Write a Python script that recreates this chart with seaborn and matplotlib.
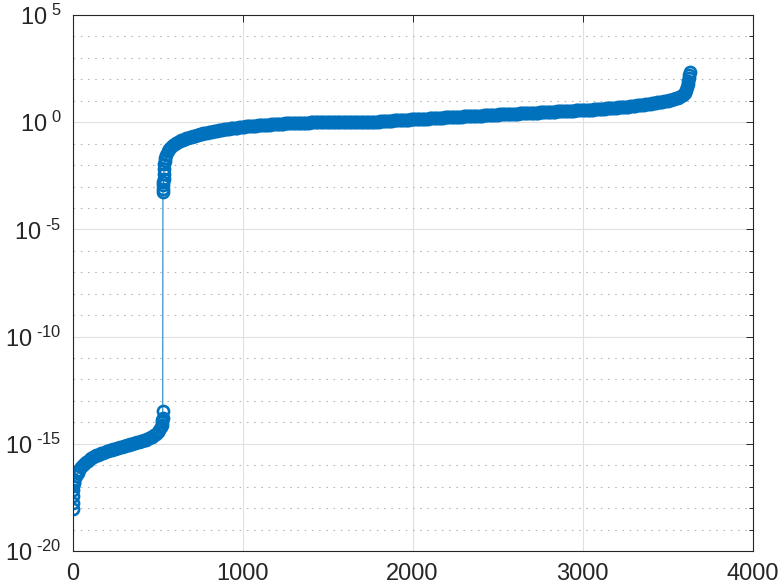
import numpy as np
import pandas as pd
import matplotlib
matplotlib.use("Agg")
import matplotlib.pyplot as plt
import seaborn as sns
from matplotlib.ticker import FixedLocator, FixedFormatter, NullLocator

# ---------------- data (log10 of sorted values) -------------
lower_head_idx = [1, 2, 3, 4, 5, 6, 8]
lower_head_log = [-18.05, -17.75, -17.45, -17.15, -16.95, -16.85, -16.78]

lower_dense_start, lower_dense_step = 10, 10
lower_dense_log = [
    -16.70, -16.50, -16.35, -16.20, -16.08, -15.99, -15.92, -15.85, -15.79, -15.73,
    -15.67, -15.62, -15.58, -15.54, -15.50, -15.47, -15.44, -15.41, -15.38, -15.35,
    -15.32, -15.30, -15.27, -15.25, -15.23, -15.20, -15.18, -15.16, -15.14, -15.11,
    -15.09, -15.07, -15.04, -15.02, -15.00, -14.98, -14.95, -14.93, -14.91, -14.88,
    -14.86, -14.83, -14.80, -14.77, -14.74, -14.70, -14.66, -14.61, -14.54, -14.46,
    -14.35, -14.20,
]

lower_tail_idx = [524, 527, 529, 530, 531]
lower_tail_log = [-14.10, -14.00, -13.90, -13.80, -13.45]

upper_head_idx = [532, 533, 534, 535, 536, 537, 538, 540, 542, 545]
upper_head_log = [-3.26, -3.10, -2.94, -2.79, -2.63, -2.40, -2.20, -1.95, -1.80, -1.65]

upper_dense_start, upper_dense_step = 550, 10
upper_dense_log = [
    -1.55, -1.36, -1.23, -1.14, -1.07, -1.01, -0.96, -0.92, -0.88, -0.85,
    -0.82, -0.79, -0.76, -0.73, -0.71, -0.68, -0.66, -0.63, -0.61, -0.58,
    -0.56, -0.54, -0.52, -0.50, -0.49, -0.47, -0.45, -0.44, -0.42, -0.41,
    -0.39, -0.38, -0.36, -0.35, -0.34, -0.32, -0.31, -0.30, -0.29, -0.28,
    -0.27, -0.26, -0.25, -0.24, -0.23, -0.22, -0.21, -0.20, -0.20, -0.19,
    -0.18, -0.17, -0.17, -0.16, -0.15, -0.15, -0.14, -0.13, -0.13, -0.12,
    -0.11, -0.11, -0.10, -0.10, -0.09, -0.09, -0.08, -0.08, -0.07, -0.07,
    -0.06, -0.06, -0.05, -0.05, -0.05, -0.04, -0.04, -0.04, -0.03, -0.03,
    -0.03, -0.02, -0.02, -0.02, -0.02, -0.01, -0.01, -0.01, -0.01, -0.01,
    -0.01, -0.01, -0.01, 0.00, 0.00, 0.00, 0.00, 0.00, 0.00, 0.00,
    0.00, 0.00, 0.00, 0.00, 0.00, 0.00, 0.00, 0.00, 0.00, 0.00,
    0.00, 0.00, 0.00, 0.00, 0.00, 0.00, 0.01, 0.01, 0.01, 0.01,
    0.01, 0.01, 0.02, 0.02, 0.03, 0.03, 0.04, 0.04, 0.05, 0.05,
    0.06, 0.06, 0.07, 0.07, 0.08, 0.08, 0.09, 0.09, 0.10, 0.10,
    0.11, 0.11, 0.12, 0.12, 0.13, 0.13, 0.14, 0.14, 0.14, 0.15,
    0.15, 0.16, 0.16, 0.17, 0.17, 0.18, 0.18, 0.18, 0.19, 0.19,
    0.20, 0.20, 0.21, 0.21, 0.22, 0.22, 0.22, 0.23, 0.23, 0.24,
    0.24, 0.25, 0.25, 0.26, 0.26, 0.27, 0.27, 0.27, 0.28, 0.28,
    0.29, 0.29, 0.30, 0.30, 0.31, 0.31, 0.31, 0.32, 0.32, 0.33,
    0.33, 0.34, 0.34, 0.34, 0.35, 0.35, 0.36, 0.36, 0.37, 0.37,
    0.37, 0.38, 0.38, 0.39, 0.39, 0.40, 0.40, 0.40, 0.41, 0.41,
    0.42, 0.42, 0.42, 0.43, 0.43, 0.44, 0.44, 0.44, 0.45, 0.45,
    0.46, 0.46, 0.47, 0.47, 0.47, 0.48, 0.48, 0.49, 0.49, 0.49,
    0.50, 0.50, 0.51, 0.51, 0.52, 0.52, 0.52, 0.53, 0.53, 0.54,
    0.54, 0.55, 0.55, 0.55, 0.56, 0.56, 0.57, 0.57, 0.58, 0.58,
    0.59, 0.59, 0.60, 0.60, 0.61, 0.62, 0.62, 0.63, 0.63, 0.64,
    0.65, 0.65, 0.66, 0.67, 0.67, 0.68, 0.69, 0.69, 0.70, 0.71,
    0.72, 0.72, 0.73, 0.74, 0.75, 0.76, 0.77, 0.78, 0.79, 0.80,
    0.81, 0.82, 0.83, 0.84, 0.85, 0.87, 0.88, 0.89, 0.90, 0.92,
    0.93, 0.94, 0.96, 0.97, 0.99, 1.00, 1.02, 1.04, 1.06, 1.08,
    1.12, 1.15, 1.19, 1.22, 1.27, 1.35,
]

upper_tail_idx = [3605, 3610, 3615, 3620, 3623, 3626, 3628, 3630]
upper_tail_log = [1.42, 1.50, 1.62, 1.78, 1.90, 2.05, 2.18, 2.35]

x_ticks = [0, 1000, 2000, 3000, 4000]
x_tick_labels = ["0", "1000", "2000", "3000", "4000"]
y_major_exp = [-20, -15, -10, -5, 0, 5]

# ---------------- assemble -------------
lower_dense_idx = lower_dense_start + lower_dense_step * np.arange(len(lower_dense_log))
upper_dense_idx = upper_dense_start + upper_dense_step * np.arange(len(upper_dense_log))

idx = np.concatenate([lower_head_idx, lower_dense_idx, lower_tail_idx,
                      upper_head_idx, upper_dense_idx, upper_tail_idx]).astype(float)
logs = np.concatenate([lower_head_log, lower_dense_log, lower_tail_log,
                       upper_head_log, upper_dense_log, upper_tail_log])
df = pd.DataFrame({"k": idx, "value": 10.0 ** logs})

# ---------------- style -------------
sns.set_style("white")
plt.rcParams["font.family"] = ["Liberation Sans", "DejaVu Sans"]
plt.rcParams["mathtext.fontset"] = "custom"
plt.rcParams["mathtext.rm"] = "Liberation Sans"
plt.rcParams["mathtext.it"] = "Liberation Sans:italic"
plt.rcParams["mathtext.bf"] = "Liberation Sans:bold"

BLUE = "#0072BD"
AX_COLOR = "#262626"

fig = plt.figure(figsize=(7.82, 5.86), dpi=100)
ax = fig.add_axes([72.5 / 782, 1 - 551 / 586, 680 / 782, 536 / 586])
ax.set_yscale("log")

sns.lineplot(data=df, x="k", y="value", estimator=None, sort=False, ax=ax,
             color=BLUE, linewidth=0.7, marker="o", markersize=8.0,
             markerfacecolor="none", markeredgecolor=BLUE, markeredgewidth=1.9)

ax.set_xlim(0, 4000)
ax.set_ylim(1e-20, 1e5)
ax.set_xlabel("")
ax.set_ylabel("")

ax.xaxis.set_major_locator(FixedLocator(x_ticks))
ax.xaxis.set_major_formatter(FixedFormatter(x_tick_labels))
ax.xaxis.set_minor_locator(NullLocator())


def exp_label(e):
    s = str(e).replace("-", "\u2010")
    return r"$\mathregular{10^{\ %s}}$" % s


ax.yaxis.set_major_locator(FixedLocator([10.0 ** e for e in y_major_exp]))
ax.yaxis.set_major_formatter(FixedFormatter([exp_label(e) for e in y_major_exp]))
ax.yaxis.set_minor_locator(FixedLocator(
    [10.0 ** e for e in range(-20, 6) if e % 5 != 0]))
ax.yaxis.set_minor_formatter(FixedFormatter([]))

ax.set_axisbelow(True)
ax.grid(which="major", color="#e0e0e0", linewidth=0.8, linestyle="-")
ax.grid(which="minor", axis="y", color="#b8b8b8", linewidth=0.8,
        linestyle=(0, (1.5, 5)))

for s in ax.spines.values():
    s.set_visible(True)
    s.set_color(AX_COLOR)
    s.set_linewidth(0.8)

ax.tick_params(which="both", direction="in", top=True, right=True,
               color=AX_COLOR, width=0.7, labelcolor=AX_COLOR)
ax.tick_params(which="major", length=5, labelsize=17)
ax.tick_params(which="minor", length=3)
ax.tick_params(axis="x", which="major", pad=8.5)
ax.tick_params(axis="y", which="major", pad=8)

fig.savefig("out.png", dpi=100)
